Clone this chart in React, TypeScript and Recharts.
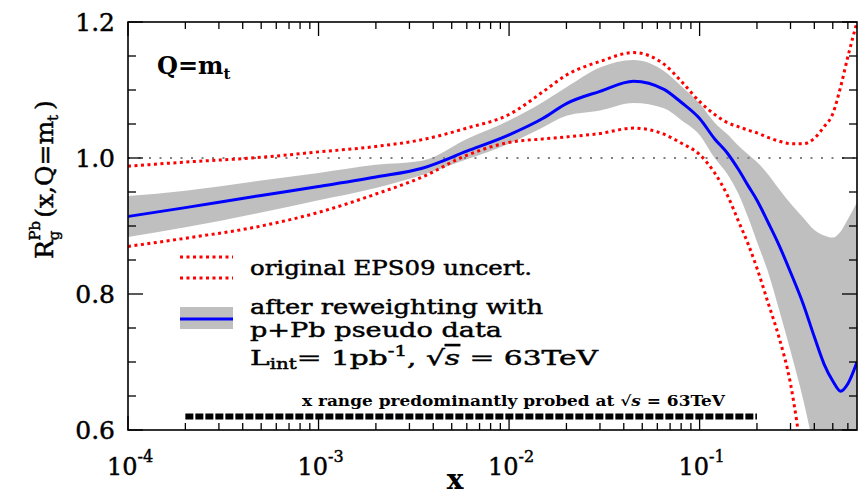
import React from 'react';
import { ComposedChart, Area, Line, XAxis, YAxis, ReferenceLine } from 'recharts';

// x (log) sample points
const X_VALS = [1e-4, 2e-4, 5e-4, 1e-3, 2e-3, 3.5e-3, 6e-3, 1e-2, 1.5e-2, 2e-2, 3e-2, 4.5e-2, 6.5e-2, 0.08, 0.1, 0.12, 0.14, 0.16, 0.18, 0.2, 0.23, 0.26, 0.3, 0.35, 0.4, 0.45, 0.5, 0.55, 0.6, 0.67];
// reweighted central value (blue)
const CENTRAL = [0.914, 0.927, 0.945, 0.958, 0.972, 0.985, 1.010, 1.034, 1.058, 1.080, 1.098, 1.113, 1.101, 1.082, 1.058, 1.028, 1.007, 0.983, 0.959, 0.938, 0.904, 0.873, 0.832, 0.785, 0.737, 0.697, 0.672, 0.657, 0.668, 0.700];
// reweighted uncertainty band (grey)
const BAND_HI = [0.944, 0.952, 0.967, 0.978, 0.990, 0.996, 1.028, 1.055, 1.082, 1.104, 1.133, 1.144, 1.128, 1.106, 1.080, 1.052, 1.035, 1.018, 1.005, 0.994, 0.975, 0.955, 0.933, 0.912, 0.894, 0.886, 0.883, 0.892, 0.910, 0.935];
const BAND_LO = [0.884, 0.898, 0.920, 0.938, 0.956, 0.975, 0.998, 1.021, 1.045, 1.062, 1.070, 1.081, 1.073, 1.056, 1.034, 1.000, 0.976, 0.947, 0.912, 0.877, 0.830, 0.779, 0.716, 0.644, 0.570, 0.500, 0.450, 0.400, 0.400, 0.400];
// original EPS09 uncertainty (red dotted)
const EPS_HI = [0.988, 0.994, 1.001, 1.009, 1.017, 1.027, 1.044, 1.064, 1.097, 1.122, 1.142, 1.155, 1.138, 1.113, 1.083, 1.064, 1.052, 1.046, 1.041, 1.037, 1.030, 1.025, 1.021, 1.021, 1.029, 1.046, 1.065, 1.105, 1.149, 1.200];
const EPS_LO: (number | null)[] = [0.870, 0.882, 0.900, 0.920, 0.947, 0.972, 1.004, 1.023, 1.028, 1.031, 1.036, 1.044, 1.035, 1.022, 1.005, 0.978, 0.945, 0.907, 0.873, 0.838, 0.785, 0.738, 0.668, 0.545, null, null, null, null, null, null];

// probed x range marker
const PROBE_X = [2e-4, 0.2];
const PROBE_Y = 0.62;

const X_DECADES = [-4, -3, -2, -1];
const X_MANTISSAS = [1, 2, 3, 4, 5, 6, 7, 8, 9];
const X_MAX = 0.67;
const Y_TICKS = [0.6, 0.65, 0.7, 0.75, 0.8, 0.85, 0.9, 0.95, 1.0, 1.05, 1.1, 1.15, 1.2];
const Y_LABELS = [0.6, 0.8, 1.0, 1.2];

const W = 858;
const H = 495;
const PL = 128;
const PT = 22;
const PR = 857;
const PB = 430;

const FONT = '"DejaVu Serif", serif';
// thin outline to give the heavier TeX-like look
const HEAVY = { stroke: '#000', strokeWidth: 0.45 };

const data = X_VALS.map((x, i) => ({
  x,
  central: CENTRAL[i],
  band: [BAND_LO[i], BAND_HI[i]],
  epsHi: EPS_HI[i],
  epsLo: EPS_LO[i],
}));
const probe = PROBE_X.map(x => ({ x, y: PROBE_Y }));

const xTicks: number[] = [];
X_DECADES.forEach(e => X_MANTISSAS.forEach(m => {
  const v = m * Math.pow(10, e);
  if (v <= X_MAX) xTicks.push(v);
}));

function XTick(props: any) {
  const { x, payload } = props;
  const v: number = payload.value;
  const e = Math.round(Math.log10(v));
  const major = Math.abs(v / Math.pow(10, e) - 1) < 1e-6;
  const len = major ? 14 : 7;
  return (
    <g>
      <line x1={x} x2={x} y1={PB} y2={PB - len} stroke="#000" strokeWidth={1.3} />
      <line x1={x} x2={x} y1={PT} y2={PT + len} stroke="#000" strokeWidth={1.3} />
      {major && (
        <text x={x + 2} y={PB + 45} textAnchor="middle" fontFamily={FONT} fontSize={24} fill="#000" {...HEAVY}>
          10<tspan dy={-13} fontSize={16}>{e}</tspan>
        </text>
      )}
    </g>
  );
}

function YTick(props: any) {
  const { y, payload } = props;
  const v: number = payload.value;
  const major = Y_LABELS.some(l => Math.abs(l - v) < 1e-6);
  const len = major ? 15 : 8;
  return (
    <g>
      <line x1={PL} x2={PL + len} y1={y} y2={y} stroke="#000" strokeWidth={1.3} />
      <line x1={PR} x2={PR - len} y1={y} y2={y} stroke="#000" strokeWidth={1.3} />
      {major && (
        <text x={115} y={y + 9} textAnchor="end" fontFamily={FONT} fontSize={25} fill="#000" {...HEAVY}>
          {v.toFixed(1)}
        </text>
      )}
    </g>
  );
}

export default function App() {
  return (
    <div style={{ position: 'absolute', left: 0, top: 0, width: W, height: H, background: '#fff' }}>
      <ComposedChart width={W} height={H} data={data} margin={{ top: PT, right: W - PR, bottom: 0, left: 0 }}>
        <XAxis
          dataKey="x"
          type="number"
          scale="log"
          domain={[1e-4, X_MAX]}
          ticks={xTicks}
          interval={0}
          tick={<XTick />}
          tickLine={false}
          axisLine={false}
          height={H - PB}
          allowDataOverflow
        />
        <YAxis
          type="number"
          domain={[0.6, 1.2]}
          ticks={Y_TICKS}
          interval={0}
          tick={<YTick />}
          tickLine={false}
          axisLine={false}
          width={PL}
          allowDataOverflow
        />
        <Area
          dataKey="band"
          type="monotone"
          fill="#bfbfbf"
          fillOpacity={1}
          stroke="none"
          isAnimationActive={false}
        />
        <ReferenceLine y={1} stroke="#808080" strokeWidth={2} strokeDasharray="2 8.5" />
        <Line dataKey="epsHi" type="monotone" stroke="#ff0000" strokeWidth={3} strokeDasharray="3 3.5" dot={false} isAnimationActive={false} />
        <Line dataKey="epsLo" type="monotone" stroke="#ff0000" strokeWidth={3} strokeDasharray="3 3.5" dot={false} isAnimationActive={false} />
        <Line dataKey="central" type="monotone" stroke="#0000ff" strokeWidth={3} dot={false} isAnimationActive={false} />
        <Line data={probe} dataKey="y" type="linear" stroke="#000" strokeWidth={6} strokeDasharray="8 2" dot={false} isAnimationActive={false} />
      </ComposedChart>

      <svg width={W} height={H} style={{ position: 'absolute', left: 0, top: 0, pointerEvents: 'none' }} fontFamily={FONT}>
        <rect x={PL} y={PT} width={PR - PL} height={PB - PT} fill="none" stroke="#000" strokeWidth={1.6} />

        {/* y axis title */}
        <text transform="translate(53,259) rotate(-90)" fontSize={25} fill="#000" {...HEAVY}>
          R<tspan dy={6} fontSize={15}>g</tspan>
          <tspan dx={-10} dy={-19} fontSize={15}>Pb</tspan>
          <tspan dx={3} dy={13} fontSize={25}>(x,Q=m</tspan>
          <tspan dy={5} fontSize={15}>t</tspan>
          <tspan dx={5} dy={-5} fontSize={25}>)</tspan>
        </text>

        {/* x axis title */}
        <text x={455} y={489} textAnchor="middle" fontSize={28} fontWeight="bold" fill="#000">x</text>

        {/* scale label */}
        <text x={157} y={74} fontSize={24} fontWeight="bold" fill="#000">
          Q=m<tspan dy={5} fontSize={15}>t</tspan>
        </text>

        {/* legend */}
        <line x1={180} x2={233} y1={257} y2={257} stroke="#ff0000" strokeWidth={3} strokeDasharray="3 3.5" />
        <line x1={180} x2={233} y1={278} y2={278} stroke="#ff0000" strokeWidth={3} strokeDasharray="3 3.5" />
        <text x={250} y={275} fontSize={20} fill="#000" {...HEAVY} textLength={282} lengthAdjust="spacingAndGlyphs">original EPS09 uncert.</text>

        <rect x={180} y={307} width={53} height={22} fill="#bfbfbf" />
        <line x1={180} x2={233} y1={319} y2={319} stroke="#0000ff" strokeWidth={3} />
        <text x={250} y={314} fontSize={20} fill="#000" {...HEAVY} textLength={293} lengthAdjust="spacingAndGlyphs">after reweighting with</text>
        <text x={250} y={337} fontSize={20} fill="#000" {...HEAVY} textLength={252} lengthAdjust="spacingAndGlyphs">p+Pb pseudo data</text>
        <text x={250} y={365} fontSize={21} fill="#000" {...HEAVY} textLength={348} lengthAdjust="spacingAndGlyphs">
          L<tspan dy={4} fontSize={14}>int</tspan>
          <tspan dy={-4}>= 1pb</tspan>
          <tspan dy={-9} fontSize={14}>-1</tspan>
          <tspan dy={9}>, √</tspan>
          <tspan fontStyle="italic" textDecoration="overline">s</tspan>
          <tspan> = 63TeV</tspan>
        </text>

        <text x={302} y={406} fontSize={14} fontWeight="bold" fill="#000" textLength={423} lengthAdjust="spacingAndGlyphs">
          x range predominantly probed at √<tspan fontStyle="italic">s</tspan> = 63TeV
        </text>
      </svg>
    </div>
  );
}
